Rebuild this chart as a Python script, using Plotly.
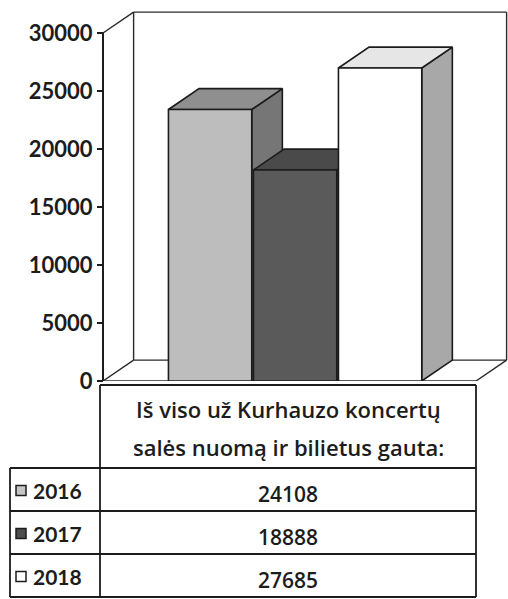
import plotly.graph_objects as go

# ---- data ----
years = ["2016", "2017", "2018"]
values = [24108, 18888, 27685]
tick_values = [0, 5000, 10000, 15000, 20000, 25000, 30000]
tick_labels = ["0", "5000", "10000", "15000", "20000", "25000", "30000"]
header_lines = ["Iš viso už Kurhauzo koncertų", "salės nuomą ir bilietus gauta:"]

# ---- styles ----
front_colors = ["#bdbdbd", "#5a5a5a", "#ffffff"]
top_colors = ["#8f8f8f", "#4a4a4a", "#e6e6e6"]
side_colors = ["#767676", "#3c3c3c", "#a8a8a8"]
legend_colors = ["#c6c6c6", "#4e4e4e", "#ffffff"]
INK = "#1c1c1c"
FONT = "Lato"
TABLE_FONT = "Open Sans"

W, H = 508, 599


def fx(p):
    return p / W


def fy(p):
    return 1 - p / H


# 3D geometry (data units)
UNIT_PX = 85.0
HALF = 0.49
DX = 0.36
DY = 1800
FRONT_DROP = 700
AXIS_X = -1.26
X_LEFT = AXIS_X - 3 / UNIT_PX
X_RIGHT = X_LEFT + (W - 100) / UNIT_PX
FLOOR_END = AXIS_X + (476 - 103) / UNIT_PX
AX_MAX = tick_values[-1]
PX_PER_VAL = (381 - 33) / AX_MAX
Y_TOP = (381 - 8) / PX_PER_VAL

fig = go.Figure()

# walls / floor outline
segs = [
    ((AXIS_X, AX_MAX), (AXIS_X + DX, AX_MAX + DY)),
    ((AXIS_X + DX, DY), (AXIS_X + DX, AX_MAX + DY)),
    ((AXIS_X + DX, AX_MAX + DY), (FLOOR_END + DX, AX_MAX + DY)),
    ((FLOOR_END + DX, AX_MAX + DY), (FLOOR_END + DX, DY)),
    ((AXIS_X, 0), (AXIS_X + DX, DY)),
    ((AXIS_X + DX, DY), (FLOOR_END + DX, DY)),
    ((AXIS_X, 0), (FLOOR_END, 0)),
    ((FLOOR_END, 0), (FLOOR_END + DX, DY)),
]
wx, wy = [], []
for (a, b) in segs:
    wx += [a[0], b[0], None]
    wy += [a[1], b[1], None]
fig.add_trace(go.Scatter(x=wx, y=wy, mode="lines",
                         line=dict(color="#2a2a2a", width=1.4),
                         hoverinfo="skip", showlegend=False))

# y axis line
fig.add_trace(go.Scatter(x=[AXIS_X, AXIS_X], y=[0, AX_MAX], mode="lines",
                         line=dict(color=INK, width=2),
                         hoverinfo="skip", showlegend=False))

# 3D bars
for i, (yr, v) in enumerate(zip(years, values)):
    h = v - FRONT_DROP
    l, r = i - HALF, i + HALF
    side_x = [r, r, r + DX, r + DX, r]
    side_y = [0, h, h + DY, DY, 0]
    top_x = [l, r, r + DX, l + DX, l]
    top_y = [h, h, h + DY, h + DY, h]
    front_x = [l, r, r, l, l]
    front_y = [0, 0, h, h, 0]
    for xs, ys, col in [(side_x, side_y, side_colors[i]),
                        (top_x, top_y, top_colors[i]),
                        (front_x, front_y, front_colors[i])]:
        fig.add_trace(go.Scatter(x=xs, y=ys, mode="lines", fill="toself",
                                 fillcolor=col,
                                 line=dict(color=INK, width=1.6),
                                 name=yr, hoverinfo="skip", showlegend=False))

# ---- data table (below chart) ----
T_LEFT, T_KEY, T_RIGHT = 10, 100, 476
T_TOP, T_HEAD = 385, 468
ROW_H = 43
row_tops = [T_HEAD + k * ROW_H for k in range(len(years) + 1)]
T_BOTTOM = row_tops[-1]

shapes = []


def hline(x0, x1, y):
    shapes.append(dict(type="line", xref="paper", yref="paper",
                       x0=fx(x0), x1=fx(x1), y0=fy(y), y1=fy(y),
                       line=dict(color=INK, width=1.8)))


def vline(x, y0, y1):
    shapes.append(dict(type="line", xref="paper", yref="paper",
                       x0=fx(x), x1=fx(x), y0=fy(y0), y1=fy(y1),
                       line=dict(color=INK, width=1.8)))


hline(T_KEY, T_RIGHT, T_TOP)
for yy in row_tops:
    hline(T_LEFT, T_RIGHT, yy)
vline(T_KEY, T_TOP, T_BOTTOM)
vline(T_RIGHT, T_TOP, T_BOTTOM)
vline(T_LEFT, T_HEAD, T_BOTTOM)

annotations = []
cx = (T_KEY + T_RIGHT) / 2
head_centers = [409, 447]
for txt, yc in zip(header_lines, head_centers):
    annotations.append(dict(text=txt, x=fx(cx), y=fy(yc), xref="paper", yref="paper",
                            xanchor="center", yanchor="middle", showarrow=False,
                            font=dict(family=TABLE_FONT, size=22, color=INK, weight=600)))

for k, (yr, v) in enumerate(zip(years, values)):
    yc = row_tops[k] + ROW_H / 2
    annotations.append(dict(text=str(v), x=fx(cx), y=fy(yc + 4), xref="paper", yref="paper",
                            xanchor="center", yanchor="middle", showarrow=False,
                            font=dict(family=TABLE_FONT, size=21, color=INK, weight=600)))
    annotations.append(dict(text=yr, x=fx(31), y=fy(yc + 1), xref="paper", yref="paper",
                            xanchor="left", yanchor="middle", showarrow=False,
                            font=dict(family=FONT, size=21, color=INK, weight="bold")))
    shapes.append(dict(type="rect", xref="paper", yref="paper",
                       x0=fx(16), x1=fx(26), y0=fy(yc - 4), y1=fy(yc + 6),
                       fillcolor=legend_colors[k], line=dict(color=INK, width=1.5)))

fig.update_layout(
    width=W, height=H,
    margin=dict(l=0, r=0, t=0, b=0, autoexpand=False),
    paper_bgcolor="white", plot_bgcolor="white",
    showlegend=False,
    shapes=shapes,
    annotations=annotations,
    xaxis=dict(domain=[fx(100), 1], range=[X_LEFT, X_RIGHT], visible=False,
               fixedrange=True, automargin=False),
    yaxis=dict(domain=[fy(381), fy(8)], range=[0, Y_TOP], anchor="free",
               position=fx(103), showgrid=False, zeroline=False, showline=False,
               tickmode="array", tickvals=tick_values, ticktext=tick_labels,
               ticks="outside", ticklen=6, tickwidth=2, tickcolor=INK,
               tickfont=dict(family=FONT, size=22, color=INK, weight="bold"),
               fixedrange=True, automargin=False),
)

fig.write_html(
    "out.html",
    config={"displayModeBar": False},
    post_script="document.body.style.margin='0';document.body.style.overflow='hidden';",
)
